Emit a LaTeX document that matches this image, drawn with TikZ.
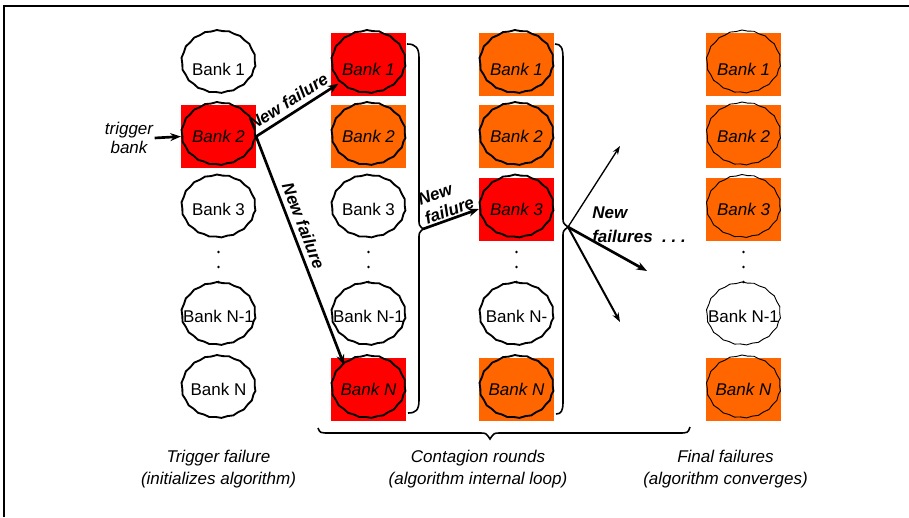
\documentclass[tikz,border=0pt]{standalone}
\usepackage{fontspec}
\setmainfont{Liberation Sans}
\usetikzlibrary{arrows.meta,shapes.geometric,decorations.pathmorphing}
\definecolor{failred}{HTML}{FF0000}
\definecolor{failorange}{HTML}{FF6600}

% coloured square behind a failed bank: colour, x, y (centre)
\newcommand\failsq[3]{\fill[#1] (#2-37.5,#3-31.5) rectangle (#2+37.5,#3+31.5);}

\begin{document}
\begin{tikzpicture}[x=0.75pt,y=-0.75pt,
  font=\fontsize{12.75}{15}\selectfont,
  % the label sits in a zero-width box so every ellipse keeps the same size
  bank/.style={ellipse, draw, line width=1.4pt, minimum width=55pt,
    minimum height=46.5pt, inner sep=0pt, decorate,
    decoration={snake, amplitude=0.35pt, segment length=9pt},
    execute at begin node={\hbox to 0pt\bgroup\hss},
    execute at end node={\hss\egroup}},
  thinbank/.style={bank, line width=0.7pt},
  failed/.style={font=\fontsize{12.75}{15}\selectfont\itshape},
  toprow/.style={text height=16pt},
  arr/.style={line width=2pt, -{Stealth[length=8pt,width=6pt]}},
  lbl/.style={font=\fontsize{12.75}{15}\selectfont\bfseries\itshape, inner sep=1pt},
  bracepath/.style={line width=1.2pt},
  caption/.style={font=\fontsize{12.75}{16.5}\selectfont\itshape, align=center},
  dot/.style={fill=black}
]
\useasboundingbox (0,0) rectangle (909,517);
\fill[white] (0,0) rectangle (909,517);

% frame
\draw[line width=1.5pt] (4,517) -- (4,6) -- (909,6);

% coloured squares
\failsq{failred}{218.5}{136.5}
\failsq{failred}{368.5}{64.5}
\failsq{failorange}{368.5}{136.5}
\failsq{failred}{368.5}{389.5}
\failsq{failorange}{516.5}{64.5}
\failsq{failorange}{516.5}{136.5}
\failsq{failred}{516.5}{209}
\failsq{failorange}{516.5}{389.5}
\failsq{failorange}{743.5}{64.5}
\failsq{failorange}{743.5}{136.5}
\failsq{failorange}{743.5}{209}
\failsq{failorange}{743.5}{389.5}

% column 1: trigger failure
\node[bank, toprow] (a1) at (218.5,64.5) {Bank 1};
\node[bank, failed] (a2) at (218.5,136.5) {Bank 2};
\node[bank] (a3) at (218.5,209) {Bank 3};
\node[bank] (a4) at (218.5,316.5) {Bank N-1};
\node[bank] (a5) at (218.5,389.5) {Bank N};

% column 2: first contagion round
\node[bank, failed, toprow] (b1) at (368.5,64.5) {Bank 1};
\node[bank, failed] (b2) at (368.5,136.5) {Bank 2};
\node[bank] (b3) at (368.5,209) {Bank 3};
\node[bank] (b4) at (368.5,316.5) {Bank N-1};
\node[bank, failed] (b5) at (368.5,389.5) {Bank N};

% column 3: second contagion round
\node[bank, failed, toprow] (c1) at (516.5,64.5) {Bank 1};
\node[bank, failed] (c2) at (516.5,136.5) {Bank 2};
\node[bank, failed] (c3) at (516.5,209) {Bank 3};
\node[bank] (c4) at (516.5,316.5) {Bank N-};
\node[bank, failed] (c5) at (516.5,389.5) {Bank N};

% column 4: final failures
\node[thinbank, failed, toprow] (d1) at (743.5,64.5) {Bank 1};
\node[thinbank, failed] (d2) at (743.5,136.5) {Bank 2};
\node[thinbank, failed] (d3) at (743.5,209) {Bank 3};
\node[thinbank] (d4) at (743.5,316.5) {Bank N-1};
\node[thinbank, failed] (d5) at (743.5,389.5) {Bank N};

% vertical ellipsis dots
\foreach \cx in {218.5,368.5,516.5,743.5}
  \foreach \cy in {252,267,282}
    \fill[dot] (\cx,\cy) circle (1.4);

% trigger
\node[font=\fontsize{12.75}{14.25}\selectfont\itshape, align=center, inner sep=1pt]
  (trig) at (129,138) {trigger\\bank};
\draw[arr] (trig.east) -- (a2.west);

% first round failures
\draw[arr] (a2.east) -- node[lbl, pos=0.47, sloped, above=2.5pt] {New failure} (b1);
\draw[arr] (a2.east) -- node[lbl, pos=0.41, sloped, above=2.5pt] {New failure} (b5.135);

% braces
\coordinate (cusp1) at (423,229);
\draw[bracepath] (407,44) .. controls (416,44) and (419,48) .. (419,58)
  -- (419,220) .. controls (419,225) .. (cusp1) .. controls (419,233) .. (419,238)
  -- (419,400) .. controls (419,410) and (416,413) .. (408,413);
\coordinate (cusp2) at (568,227);
\draw[bracepath] (555,44) .. controls (561,44) and (563,48) .. (563,58)
  -- (563,218) .. controls (563,223) .. (cusp2) .. controls (563,231) .. (563,236)
  -- (563,402) .. controls (563,411) and (561,414) .. (556,414);
\coordinate (cusp3) at (490,439);
\draw[bracepath] (318,428) .. controls (320,433) .. (330,433)
  -- (480,433) .. controls (486,433) .. (cusp3) .. controls (494,433) .. (500,433)
  -- (678,433) .. controls (688,433) .. (690,427);

% second round failure
\draw[arr] (cusp1) -- (c3.west);
\node[lbl, rotate=20, align=left] at (446,201) {New\\failure};

% further failures
\coordinate (f1) at (620,146);
\coordinate (f2) at (647,271);
\coordinate (f3) at (620,322);
\draw[line width=1pt, -{Stealth[length=6.5pt,width=4.5pt]}] (cusp2) -- (f1);
\draw[line width=2pt, -{Stealth[length=8pt,width=6pt]}] (cusp2) -- (f2);
\draw[line width=1.5pt, -{Stealth[length=7pt,width=5pt]}] (cusp2) -- (f3);
\node[font=\fontsize{12.75}{18}\selectfont\bfseries\itshape, align=left,
  anchor=west, inner sep=0pt] (nf) at (592,225) {New\\failures \ .\ .\ .};

% captions
\node[caption] (cap1) at (218.5,469) {Trigger failure\\(initializes algorithm)};
\node[caption] (cap2) at (478,469) {Contagion rounds\\(algorithm internal loop)};
\node[caption] (cap3) at (725.5,469) {Final failures\\(algorithm converges)};
\end{tikzpicture}
\end{document}
